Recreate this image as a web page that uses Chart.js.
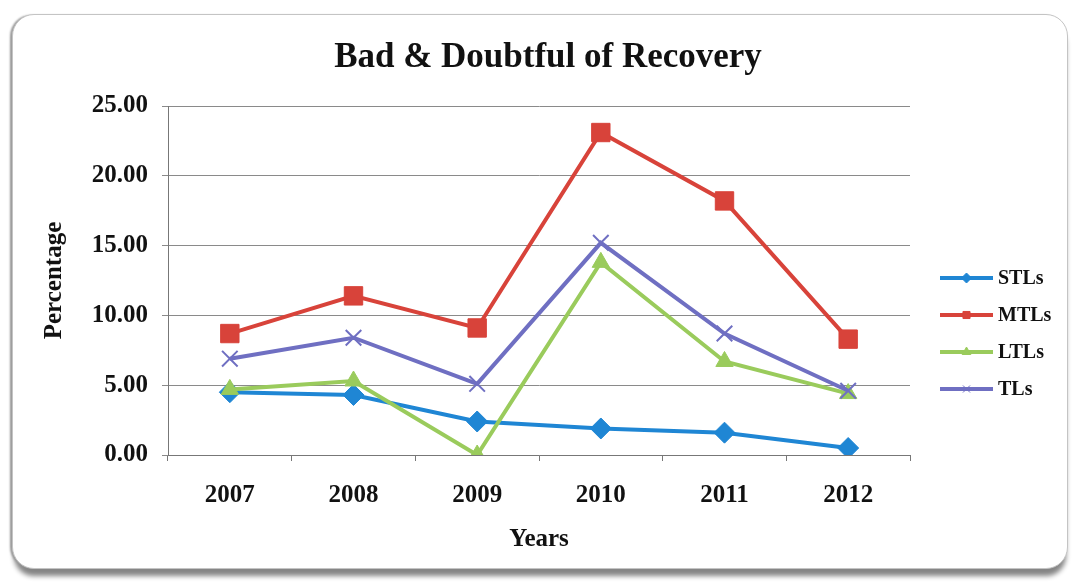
<!DOCTYPE html>
<html>
<head>
<meta charset="utf-8">
<script src="https://cdn.jsdelivr.net/npm/chart.js@4.4.1/dist/chart.umd.min.js"></script>
<style>
  html, body { margin: 0; padding: 0; background: #fff; }
  #wrap { position: relative; width: 1072px; height: 582px; overflow: hidden; }
  /* rounded frame with grey shading on left and bottom */
  #frame {
    position: absolute; left: 12px; top: 14px; width: 1054px; height: 553px;
    border-radius: 22px; border: 1px solid #c4c4c4;
    box-shadow: -3px 0 2px -1px #9a9a9a, 0 9px 5px -2px #858585;
    background: #fff;
  }
  canvas { position: absolute; left: 0; top: 0; }
</style>
</head>
<body>
<div id="wrap">
  <div id="frame"></div>
  <canvas id="recoveryChart" width="1072" height="582"></canvas>
</div>
<script>
  const years = ['2007', '2008', '2009', '2010', '2011', '2012'];
  const stls = [4.5, 4.3, 2.4, 1.9, 1.6, 0.5];
  const mtls = [8.7, 11.4, 9.1, 23.1, 18.2, 8.3];
  const ltls = [4.7, 5.3, 0.0, 13.8, 6.7, 4.4];
  const tls = [6.9, 8.4, 5.1, 15.2, 8.7, 4.6];
  const yTicks = [0, 5, 10, 15, 20, 25];

  const serif = '"Liberation Serif", "Times New Roman", serif';

  // title centred on the frame rather than on the plot area
  const frameTitle = {
    id: 'frameTitle',
    afterDraw(chart) {
      const ctx = chart.ctx;
      ctx.save();
      ctx.fillStyle = '#111';
      ctx.font = 'bold 35px ' + serif;
      ctx.textAlign = 'center';
      ctx.textBaseline = 'middle';
      ctx.fillText('Bad & Doubtful of Recovery', 548, 58);
      ctx.restore();
    }
  };

  // legend drawn Excel-style: short line with the marker in the middle
  const lineLegend = {
    id: 'lineLegend',
    afterDraw(chart) {
      const ctx = chart.ctx;
      const x0 = 940, x1 = 993, yStart = 278, step = 37;
      chart.data.datasets.forEach((ds, i) => {
        const y = yStart + i * step;
        ctx.save();
        ctx.strokeStyle = ds.borderColor;
        ctx.fillStyle = ds.borderColor;
        ctx.lineWidth = 4;
        ctx.beginPath();
        ctx.moveTo(x0, y);
        ctx.lineTo(x1, y);
        ctx.stroke();
        ctx.lineWidth = 1;
        Chart.helpers.drawPoint(ctx, {
          pointStyle: ds.pointStyle,
          radius: 5,
          rotation: ds.pointRotation || 0,
          borderWidth: ds.pointBorderWidth || 1
        }, (x0 + x1) / 2, y);
        ctx.fillStyle = '#111';
        ctx.font = 'bold 20px ' + serif;
        ctx.textBaseline = 'middle';
        ctx.fillText(ds.label, x1 + 5, y + 1);
        ctx.restore();
      });
    }
  };

  function series(label, data, color, style, radius, order) {
    return {
      label: label,
      data: data,
      order: order,
      borderColor: color,
      backgroundColor: color,
      pointBackgroundColor: color,
      pointBorderColor: color,
      pointStyle: style,
      pointRadius: radius,
      pointBorderWidth: style === 'cross' ? 2 : 1,
      pointRotation: style === 'cross' ? 45 : 0,
      borderWidth: 4,
      tension: 0
    };
  }

  const ctx = document.getElementById('recoveryChart').getContext('2d');
  new Chart(ctx, {
    type: 'line',
    data: {
      labels: years,
      datasets: [
        series('STLs', stls, '#1f86d4', 'rectRot', 10.5, 3),
        series('MTLs', mtls, '#d8433a', 'rect', 13, 2),
        series('LTLs', ltls, '#9acb5c', 'triangle', 10, 1),
        series('TLs', tls, '#6f6fc2', 'cross', 11, 0)
      ]
    },
    options: {
      responsive: false,
      animation: false,
      layout: { padding: { left: 40, right: 162, top: 106, bottom: 27 } },
      plugins: {
        legend: { display: false },
        tooltip: { enabled: false },
        title: { display: false }
      },
      scales: {
        x: {
          offset: true,
          grid: { display: true, drawOnChartArea: false, drawTicks: true, tickLength: 6, offset: true, color: '#777' },
          border: { color: '#777', width: 1 },
          ticks: { color: '#111', padding: 20, font: { family: serif, size: 25, weight: 'bold' } },
          title: { display: true, text: 'Years', color: '#111', padding: { top: 0, bottom: 0 }, font: { family: serif, size: 25, weight: 'bold' } },
          afterFit(scale) { scale.height = 100; }
        },
        y: {
          min: 0,
          max: 25,
          afterBuildTicks(scale) { scale.ticks = yTicks.map(v => ({ value: v })); },
          grid: { color: '#8a8a8a', tickLength: 6 },
          border: { color: '#777', width: 1 },
          ticks: {
            color: '#111', padding: 14,
            font: { family: serif, size: 25, weight: 'bold' },
            callback: v => Number(v).toFixed(2)
          },
          title: { display: true, text: 'Percentage', color: '#111', padding: { top: 0, bottom: 0 }, font: { family: serif, size: 25, weight: 'bold' } },
          afterFit(scale) { scale.width = 128; }
        }
      }
    },
    plugins: [frameTitle, lineLegend]
  });
</script>
</body>
</html>
